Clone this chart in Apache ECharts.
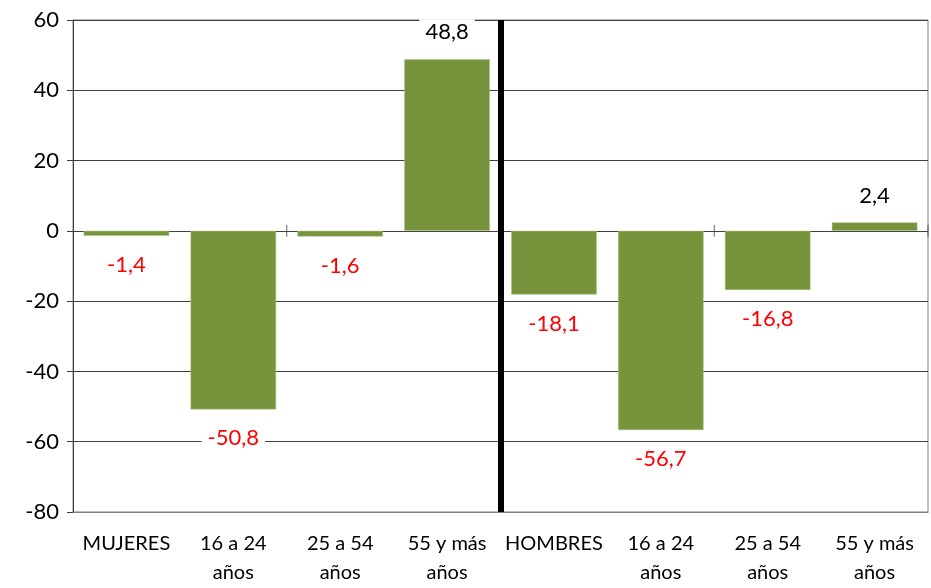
<!DOCTYPE html>
<html>
<head>
<meta charset="utf-8">
<script src="https://cdn.jsdelivr.net/npm/echarts@6/dist/echarts.min.js"></script>
<style>
  html, body { margin: 0; padding: 0; background: #fff; }
  #chart { width: 931px; height: 588px; }
</style>
</head>
<body>
<div id="chart"></div>
<script>
// categorias y variaciones (%)
var categorias = ['MUJERES', '16 a 24\naños', '25 a 54\naños', '55 y más\naños',
                  'HOMBRES', '16 a 24\naños', '25 a 54\naños', '55 y más\naños'];
var valores = [-1.4, -50.8, -1.6, 48.8, -18.1, -56.7, -16.8, 2.4];
var ticksY = [-80, -60, -40, -20, 0, 20, 40, 60];
// marcas del eje horizontal sobre el cero (cada dos categorias)
var marcasX = [2, 6, 8];
// separacion entre mujeres y hombres
var separador = 4;

var fuente = 'Lato';

var myChart = echarts.init(document.getElementById('chart'));

// cada barra lleva su etiqueta: rojo abajo si es negativa, negro arriba si es positiva
var datos = valores.map(function (v) {
    return {
        value: v,
        label: {
            position: v < 0 ? 'bottom' : 'top',
            color: v < 0 ? '#ff0000' : '#000000',
            distance: v < 0 ? 16 : 14
        }
    };
});

var option = {
    animation: false,
    grid: {
        left: 73, right: 3, top: 20, bottom: 76,
        show: true,
        borderColor: '#808080',
        borderWidth: 1
    },
    xAxis: [
        {
            type: 'category',
            data: categorias,
            axisLine: { onZero: false, lineStyle: { color: '#808080', width: 1 } },
            axisTick: { show: false },
            axisLabel: {
                color: '#000',
                fontSize: 20,
                fontFamily: fuente,
                lineHeight: 29,
                margin: 17,
                interval: 0
            },
            splitLine: { show: false }
        },
        {
            // eje auxiliar para el separador y las marcas
            type: 'value',
            min: 0,
            max: categorias.length,
            show: false
        }
    ],
    yAxis: {
        type: 'value',
        min: ticksY[0],
        max: ticksY[ticksY.length - 1],
        interval: 20,
        axisLine: { show: true, lineStyle: { color: '#404040' } },
        axisTick: { show: true, length: 6, lineStyle: { color: '#404040' } },
        axisLabel: {
            color: '#000',
            fontSize: 22,
            fontFamily: fuente,
            margin: 14
        },
        splitLine: {
            show: true,
            lineStyle: { color: '#404040', width: 1 }
        }
    },
    series: [{
        name: 'Variación',
        type: 'bar',
        xAxisIndex: 0,
        barCategoryGap: '20%',
        itemStyle: {
            color: '#77933c',
            borderColor: '#a6c47a',
            borderWidth: 0.5
        },
        label: {
            show: true,
            fontSize: 22,
            fontFamily: fuente,
            backgroundColor: '#ffffff',
            padding: [2, 6],
            formatter: function (p) {
                return String(p.value).replace('.', ',');
            }
        },
        data: datos,
        z: 3
    }, {
        name: 'marcas',
        type: 'scatter',
        xAxisIndex: 1,
        symbol: 'rect',
        symbolSize: [1, 12],
        clip: false,
        itemStyle: { color: '#404040' },
        silent: true,
        data: marcasX.map(function (x) { return [x, 0]; }),
        markLine: {
            silent: true,
            symbol: 'none',
            label: { show: false },
            lineStyle: { color: '#000', width: 6, type: 'solid' },
            data: [{ xAxis: separador }]
        },
        z: 4
    }]
};

myChart.setOption(option);
window.addEventListener('resize', function () {
    myChart.resize();
});
</script>
</body>
</html>
